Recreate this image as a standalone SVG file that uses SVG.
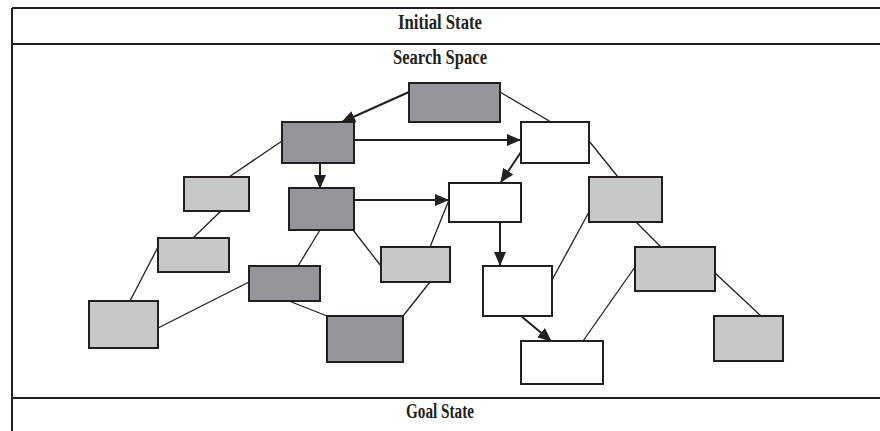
<svg xmlns="http://www.w3.org/2000/svg" width="880" height="431" viewBox="0 0 880 431">
<style>
.frame{stroke:#231f20;stroke-width:2;fill:none}
.t{font-family:"Liberation Serif","Times New Roman",serif;font-weight:bold;font-size:20px;fill:#231f20;text-anchor:middle}
.n{stroke:#231f20;stroke-width:2}
.dk{fill:#939598}
.lt{fill:#c7c8ca}
.wh{fill:#ffffff}
.e{stroke:#231f20;stroke-width:1.3;fill:none}
.a{stroke:#231f20;stroke-width:2;fill:none;marker-end:url(#ah)}
</style>
<defs>
<marker id="ah" markerUnits="userSpaceOnUse" markerWidth="14" markerHeight="12" viewBox="0 0 14 12" refX="13" refY="6" orient="auto">
<path d="M0,0 L14,6 L0,12 Z" fill="#231f20"/>
</marker>
</defs>
<rect width="880" height="431" fill="#ffffff"/>
<g id="frame">
<line class="frame" x1="12" y1="8" x2="880" y2="8"/>
<line class="frame" x1="12" y1="44" x2="880" y2="44"/>
<line class="frame" x1="12" y1="398" x2="880" y2="398"/>
<line class="frame" x1="12" y1="8" x2="12" y2="431"/>
<text class="t" x="440" y="28.5" textLength="84" lengthAdjust="spacingAndGlyphs">Initial State</text>
<text class="t" x="440" y="63.5" textLength="94" lengthAdjust="spacingAndGlyphs">Search Space</text>
<text class="t" x="440" y="418" textLength="68" lengthAdjust="spacingAndGlyphs">Goal State</text>
</g>
<g id="connectors">
<line class="a" x1="409" y1="92" x2="342" y2="122"/>
<line class="e" x1="500" y1="92" x2="551" y2="122"/>
<line class="a" x1="354" y1="140" x2="520" y2="140"/>
<line class="a" x1="320" y1="163" x2="320" y2="188"/>
<line class="e" x1="282" y1="141" x2="229" y2="177"/>
<line class="a" x1="521" y1="152" x2="501" y2="182"/>
<line class="e" x1="589" y1="141" x2="618" y2="177"/>
<line class="a" x1="354" y1="200" x2="448" y2="200"/>
<line class="e" x1="320" y1="230" x2="298" y2="266"/>
<line class="e" x1="353" y1="230" x2="381" y2="266"/>
<line class="e" x1="449" y1="200" x2="430" y2="247"/>
<line class="a" x1="500" y1="222" x2="500" y2="265"/>
<line class="e" x1="589" y1="212" x2="552" y2="280"/>
<line class="e" x1="636" y1="222" x2="661" y2="247"/>
<line class="e" x1="635" y1="267" x2="583" y2="341"/>
<line class="e" x1="715" y1="273" x2="761" y2="316"/>
<line class="a" x1="521" y1="316" x2="551" y2="341"/>
<line class="e" x1="221" y1="211" x2="193" y2="238"/>
<line class="e" x1="158" y1="247" x2="130" y2="301"/>
<line class="e" x1="158" y1="328" x2="249" y2="282"/>
<line class="e" x1="289" y1="301" x2="327" y2="316"/>
<line class="e" x1="403" y1="316" x2="430" y2="282"/>
</g>
<g id="n1"><rect class="n dk" x="409" y="83" width="91" height="39"/></g>
<g id="n2"><rect class="n dk" x="282" y="122" width="72" height="41"/></g>
<g id="n3"><rect class="n wh" x="521" y="122" width="68" height="41"/></g>
<g id="n4"><rect class="n dk" x="289" y="188" width="65" height="42"/></g>
<g id="n5"><rect class="n wh" x="449" y="183" width="72" height="39"/></g>
<g id="n6"><rect class="n lt" x="589" y="177" width="73" height="45"/></g>
<g id="n7"><rect class="n lt" x="635" y="247" width="80" height="44"/></g>
<g id="n8"><rect class="n lt" x="714" y="316" width="69" height="45"/></g>
<g id="n9"><rect class="n wh" x="483" y="266" width="69" height="50"/></g>
<g id="n10"><rect class="n wh" x="521" y="341" width="82" height="43"/></g>
<g id="n11"><rect class="n lt" x="184" y="177" width="65" height="34"/></g>
<g id="n12"><rect class="n lt" x="158" y="238" width="71" height="34"/></g>
<g id="n13"><rect class="n lt" x="89" y="301" width="69" height="47"/></g>
<g id="n14"><rect class="n dk" x="249" y="266" width="71" height="35"/></g>
<g id="n15"><rect class="n dk" x="327" y="316" width="76" height="46"/></g>
<g id="n16"><rect class="n lt" x="381" y="247" width="69" height="35"/></g>
</svg>
